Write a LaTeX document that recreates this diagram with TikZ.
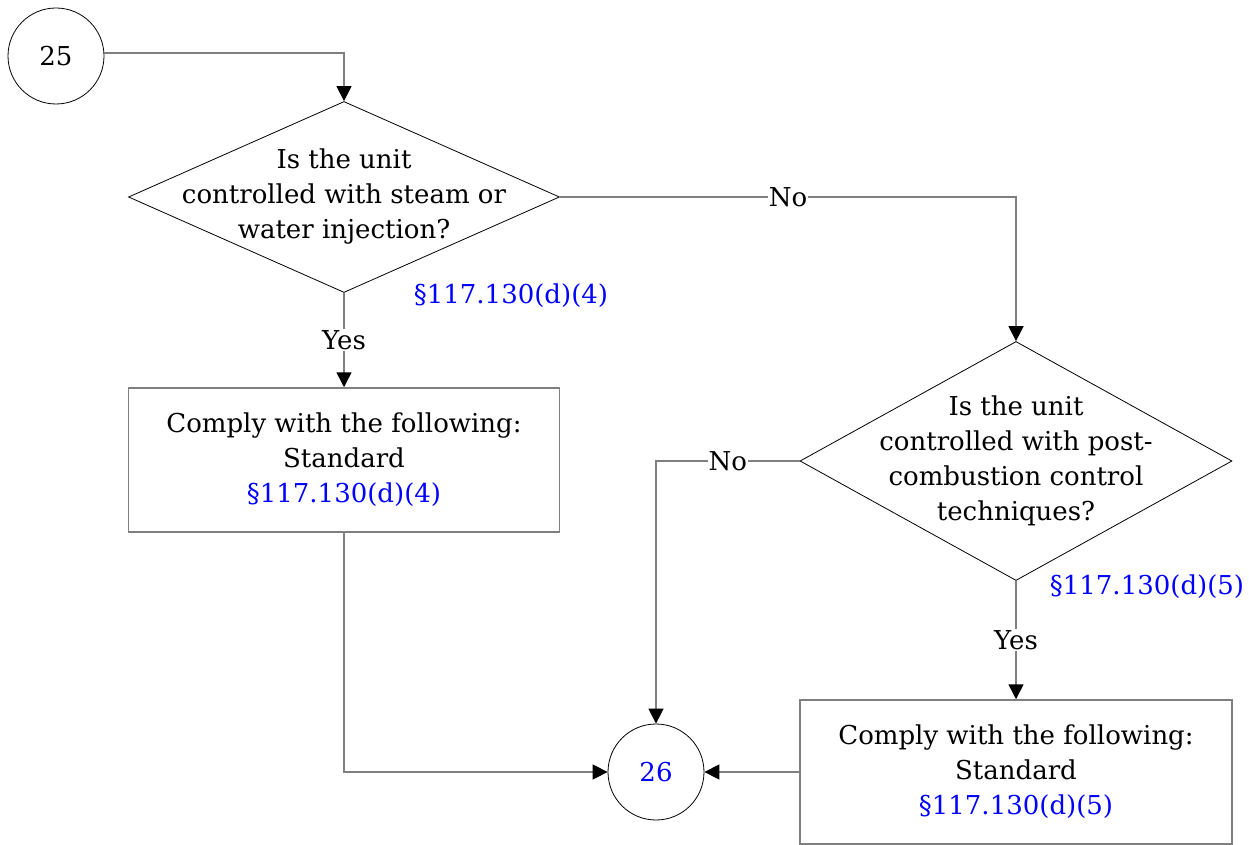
\documentclass[tikz,border=0pt]{standalone}
\usepackage{fontspec}
\setmainfont{DejaVu Serif}
\usetikzlibrary{positioning,shapes.geometric,arrows.meta}

\definecolor{refblue}{RGB}{0,0,255}
\definecolor{linegray}{RGB}{128,128,128}

\begin{document}
\begin{tikzpicture}[x=1pt,y=-1pt,
    every node/.style={font=\fontsize{26}{35}\selectfont},
    terminal/.style={circle, draw, line width=0.8pt, minimum size=96pt, inner sep=0pt},
    decision/.style={diamond, draw, line width=0.8pt, inner sep=0pt, minimum width=431pt, minimum height=191pt},
    process/.style={rectangle, draw=linegray, line width=1.5pt, minimum width=431pt, minimum height=144pt, align=center},
    qtext/.style={align=center, inner sep=0pt},
    ref/.style={text=refblue},
    answer/.style={fill=white, inner sep=1pt},
    connector/.style={draw=linegray, line width=1.5pt, -{Triangle[color=black,width=15pt,length=15pt]}}]
    \useasboundingbox (0,0) rectangle (1249,845);

    \node[terminal] (start) at (56,56) {25};
    \node[decision, label={[qtext]center:{Is the unit\\controlled with steam or\\water injection?}}] (steamQ) at (344,197) {};
    \node[ref] (steamRef) at (511,296) {§117.130(d)(4)};
    \node[process] (steamStd) at (344,460) {Comply with the following:\\Standard\\\textcolor{refblue}{§117.130(d)(4)}};
    \node[decision, minimum width=432pt, minimum height=239pt, label={[qtext]center:{Is the unit\\controlled with post-\\combustion control\\techniques?}}] (postQ) at (1016,461) {};
    \node[ref] (postRef) at (1147,587) {§117.130(d)(5)};
    \node[process, minimum width=432pt, minimum height=144pt] (postStd) at (1016,772) {Comply with the following:\\Standard\\\textcolor{refblue}{§117.130(d)(5)}};
    \node[terminal, text=refblue] (next) at (656,772) {26};

% connectors
\draw[connector] ([yshift=3pt]start.east) -| (steamQ.north);
\draw[connector] (steamQ.east) -| node[answer, pos=0.25] {No} (postQ.north);
\draw[connector] (steamQ.south) -- node[answer] {Yes} (steamStd.north);
\draw[connector] (postQ.west) -| node[answer, pos=0.25] {No} (next.north);
\draw[connector] (postQ.south) -- node[answer] {Yes} (postStd.north);
\draw[connector] (steamStd.south) |- (next.west);
\draw[connector] (postStd.west) -- (next.east);

\end{tikzpicture}
\end{document}
